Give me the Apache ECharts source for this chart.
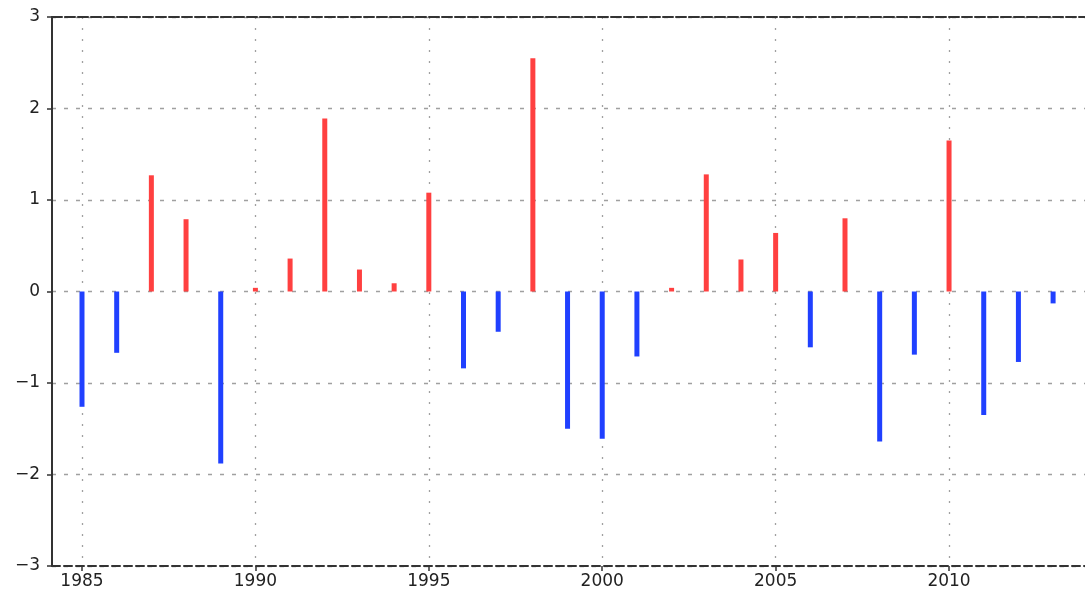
<!DOCTYPE html>
<html>
<head>
<meta charset="utf-8">
<script src="https://cdn.jsdelivr.net/npm/echarts@6/dist/echarts.min.js"></script>
<style>
  html, body { margin: 0; padding: 0; background: #fff; }
  #chart { width: 1085px; height: 591px; }
</style>
</head>
<body>
<div id="chart"></div>
<script>
// Annual anomaly index, 1985-2014
const years = [1985, 1986, 1987, 1988, 1989, 1990, 1991, 1992, 1993, 1994,
               1995, 1996, 1997, 1998, 1999, 2000, 2001, 2002, 2003, 2004,
               2005, 2006, 2007, 2008, 2009, 2010, 2011, 2012, 2013, 2014];
const anomalies = [-1.26, -0.67, 1.27, 0.79, -1.88, 0.04, 0.36, 1.89, 0.24, 0.09,
                   1.08, -0.84, -0.44, 2.55, -1.50, -1.61, -0.71, 0.04, 1.28, 0.35,
                   0.64, -0.61, 0.80, -1.64, -0.69, 1.65, -1.35, -0.77, -0.13, -0.20];
const xTickYears = [1985, 1990, 1995, 2000, 2005, 2010];

const POS_COLOR = '#ff4040';
const NEG_COLOR = '#2040ff';
const X_MIN = 1984.135;
const X_MAX = 2013.92;

const chart = echarts.init(document.getElementById('chart'), null, { renderer: 'canvas' });

const labelFont = {
  fontFamily: 'DejaVu Sans',
  fontSize: 17,
  color: '#222'
};

chart.setOption({
  animation: false,
  backgroundColor: '#fff',
  grid: { left: 52, top: 17, bottom: 25, right: 0 },
  xAxis: [
    {
      type: 'value',
      position: 'bottom',
      min: X_MIN,
      max: X_MAX,
      axisLine: { show: true, onZero: false, lineStyle: { color: '#333', width: 2, type: [8, 4] } },
      axisTick: { show: true, length: 5, customValues: xTickYears, lineStyle: { color: '#333', width: 1.5 } },
      axisLabel: Object.assign({ customValues: xTickYears, margin: 7, formatter: v => String(Math.round(v)) }, labelFont),
      splitLine: { show: true, lineStyle: { color: '#a0a0a0', width: 1.3, type: [2, 9] } }
    },
    {
      type: 'value',
      position: 'top',
      min: X_MIN,
      max: X_MAX,
      axisLine: { show: true, onZero: false, lineStyle: { color: '#333', width: 2, type: [10, 3] } },
      axisTick: { show: false },
      axisLabel: { show: false },
      splitLine: { show: false }
    }
  ],
  yAxis: {
    type: 'value',
    min: -3,
    max: 3,
    interval: 1,
    axisLine: { show: true, onZero: false, lineStyle: { color: '#333', width: 2 } },
    axisTick: { show: true, length: 5, lineStyle: { color: '#333', width: 1.5 } },
    axisLabel: Object.assign({
      margin: 12,
      formatter: v => (v < 0 ? '\u2212' + Math.abs(v) : String(v))
    }, labelFont),
    splitLine: { show: true, lineStyle: { color: '#a0a0a0', width: 1.3, type: [4, 8] } }
  },
  series: [
    {
      type: 'bar',
      xAxisIndex: 0,
      barWidth: 5,
      clip: false,
      data: years.map((y, i) => [y, anomalies[i]]),
      itemStyle: {
        color: p => (p.value[1] >= 0 ? POS_COLOR : NEG_COLOR)
      }
    }
  ]
});
</script>
</body>
</html>
